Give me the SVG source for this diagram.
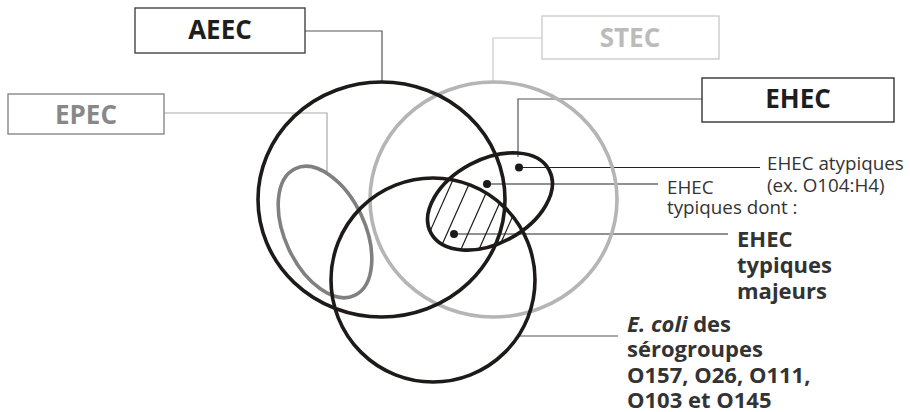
<svg xmlns="http://www.w3.org/2000/svg" width="910" height="412" viewBox="0 0 910 412">
<style>
text{font-family:"Open Sans","Noto Sans","DejaVu Sans",sans-serif}
.title{font-size:26px;font-weight:bold;text-anchor:middle}
.box{fill:#fff;stroke-width:1.4}
.set{fill:none;stroke-width:3.6}
.conn{fill:none;stroke-width:1.2}
.lbl{font-size:18.8px;fill:#333}
.blbl{font-size:22px;font-weight:bold;fill:#333}
.dot{fill:#1a1a1a}
.hatch{stroke:#1a1a1a;stroke-width:1.2}
</style>
<defs>
<clipPath id="clipEhec"><ellipse cx="490" cy="201.5" rx="67" ry="42" transform="rotate(-28 490 201.5)"/></clipPath>
<clipPath id="clipEcoli"><circle cx="433" cy="280" r="102"/></clipPath>
</defs>
<rect width="910" height="412" fill="#fff"/>

<g id="connectors">
<polyline class="conn" stroke="#555" points="305,31 382,31 382,82"/>
<polyline class="conn" stroke="#aaa" points="164,113 327,113 327,174"/>
<polyline class="conn" stroke="#c8c8c8" points="542,38 493,38 493,82"/>
<polyline class="conn" stroke="#555" points="702,99 518,99 518,157"/>
<line class="conn" stroke="#222" x1="519" y1="167.5" x2="760" y2="167.5"/>
<line class="conn" stroke="#222" x1="487" y1="184" x2="658" y2="184"/>
<line class="conn" stroke="#222" x1="454" y1="234" x2="728" y2="234"/>
<line class="conn" stroke="#555" x1="520" y1="336" x2="618" y2="336"/>
</g>

<g id="hatching" clip-path="url(#clipEhec)">
<g clip-path="url(#clipEcoli)">
<line class="hatch" x1="407" y1="283" x2="456" y2="173"/>
<line class="hatch" x1="425" y1="283" x2="474" y2="173"/>
<line class="hatch" x1="446" y1="283" x2="495" y2="173"/>
<line class="hatch" x1="464" y1="283" x2="513" y2="173"/>
<line class="hatch" x1="483" y1="283" x2="532" y2="173"/>
</g>
</g>

<g id="epec">
<rect class="box" x="8" y="94" width="156" height="40" stroke="#888"/>
<text class="title" x="86" y="124" fill="#888">EPEC</text>
<ellipse class="set" cx="325" cy="232" rx="70" ry="40" transform="rotate(65 325 232)" stroke="#808080"/>
</g>

<g id="stec">
<rect class="box" x="542" y="16" width="177" height="43" stroke="#ccc"/>
<text class="title" x="630" y="47" fill="#bbb">STEC</text>
<ellipse class="set" cx="493.5" cy="199.5" rx="123.5" ry="117.5" stroke="#b5b5b5"/>
</g>

<g id="aeec">
<rect class="box" x="135" y="8" width="170" height="45" stroke="#444"/>
<text class="title" x="220" y="39" fill="#1e1e1e">AEEC</text>
<ellipse class="set" cx="381.5" cy="199.5" rx="123.5" ry="117.5" stroke="#1e1a1a"/>
</g>

<g id="ecoli">
<circle class="set" cx="433" cy="280" r="102" stroke="#1e1a1a" stroke-width="3.2"/>
<text class="blbl" x="627" y="332"><tspan font-style="italic">E. coli</tspan> des</text>
<text class="blbl" x="627" y="357">sérogroupes</text>
<text class="blbl" x="627" y="383">O157, O26, O111,</text>
<text class="blbl" x="627" y="408">O103 et O145</text>
</g>

<g id="ehec">
<rect class="box" x="702" y="78" width="192" height="44" stroke="#333"/>
<text class="title" x="798" y="108" fill="#1e1e1e">EHEC</text>
<ellipse class="set" cx="490" cy="201.5" rx="67" ry="42" transform="rotate(-28 490 201.5)" stroke="#1e1a1a"/>
</g>

<g id="ehec-atypiques">
<circle class="dot" cx="519" cy="167.5" r="4"/>
<text class="lbl" x="767" y="170">EHEC atypiques</text>
<text class="lbl" x="767" y="191.5">(ex. O104:H4)</text>
</g>

<g id="ehec-typiques">
<circle class="dot" cx="487" cy="184" r="4"/>
<text class="lbl" x="667" y="194">EHEC</text>
<text class="lbl" x="667" y="214">typiques dont :</text>
</g>

<g id="ehec-majeurs">
<circle class="dot" cx="454" cy="234" r="4"/>
<text class="blbl" x="737" y="247">EHEC</text>
<text class="blbl" x="737" y="273">typiques</text>
<text class="blbl" x="737" y="299">majeurs</text>
</g>
</svg>
